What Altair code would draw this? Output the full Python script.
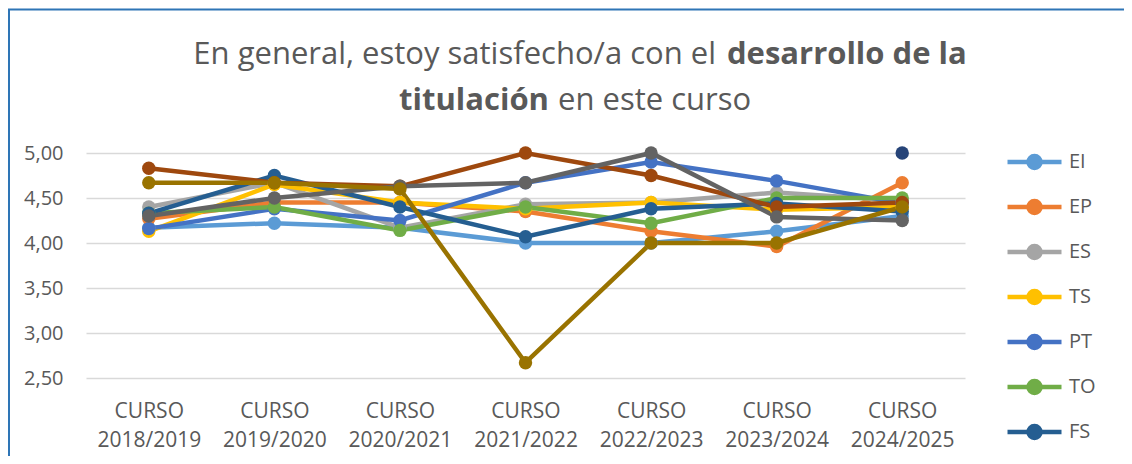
import altair as alt
import pandas as pd

courses = ["2018/2019", "2019/2020", "2020/2021", "2021/2022", "2022/2023", "2023/2024", "2024/2025"]

series = ["EI", "EP", "ES", "TS", "PT", "TO", "FS", "Serie 8", "Serie 9", "Serie 10", "Serie 11"]
colors = ["#5B9BD5", "#ED7D31", "#A5A5A5", "#FFC000", "#4472C4", "#70AD47",
          "#255E91", "#9E480E", "#636363", "#997300", "#264478"]

EI = [4.17, 4.22, 4.17, 4.00, 4.00, 4.13, 4.30]
EP = [4.27, 4.45, 4.45, 4.35, 4.13, 3.96, 4.67]
ES = [4.40, 4.67, 4.17, 4.43, 4.45, 4.56, 4.47]
TS = [4.13, 4.65, 4.45, 4.38, 4.45, 4.37, 4.40]
PT = [4.16, 4.38, 4.25, 4.67, 4.90, 4.69, 4.44]
TO = [4.33, 4.40, 4.14, 4.40, 4.22, 4.50, 4.50]
FS = [4.33, 4.75, 4.40, 4.07, 4.38, 4.44, 4.35]
S8 = [4.83, 4.67, 4.63, 5.00, 4.75, 4.40, 4.45]
S9 = [4.30, 4.50, 4.63, 4.67, 5.00, 4.29, 4.25]
S10 = [4.67, 4.67, 4.60, 2.67, 4.00, 4.00, 4.40]
S11 = [None, None, None, None, None, None, 5.00]

all_values = [EI, EP, ES, TS, PT, TO, FS, S8, S9, S10, S11]

rows = []
for name, vals in zip(series, all_values):
    for c, v in zip(courses, vals):
        if v is not None:
            rows.append({"serie": name, "curso": c, "valor": v})
df = pd.DataFrame(rows)

TEXT = "#595959"
FONT = "Open Sans"

W, H = 879, 225
PAD_L, PAD_T = 78, 145
TOTAL_W, TOTAL_H = 1116, 448

# legend symbol: line with a filled dot (concentric strokes)
def circ(r):
    return f"M{r},0A{r},{r} 0 1,1 {-r},0A{r},{r} 0 1,1 {r},0Z"
sym_path = "M-1,0L1,0" + circ(0.074) + circ(0.167) + circ(0.222)

legend = alt.Legend(
    title=None, orient="none", legendX=919, legendY=-6,
    values=series[:7], symbolType=sym_path, symbolSize=2916,
    symbolStrokeWidth=4.5, clipHeight=30, rowPadding=15, labelOffset=5,
    labelFont=FONT, labelFontSize=20, labelColor=TEXT, padding=0, labelLimit=0,
)

base = alt.Chart(df).encode(
    x=alt.X("curso:N", sort=courses,
            scale=alt.Scale(type="point", padding=0.5),
            axis=alt.Axis(title=None, labelAngle=0, domain=False, ticks=False,
                          grid=False, labelPadding=22,
                          labelExpr="['CURSO', datum.label]",
                          labelLineHeight=29, labelFont=FONT, labelFontSize=21,
                          labelColor=TEXT, labelLimit=0)),
    y=alt.Y("valor:Q", scale=alt.Scale(domain=[2.5, 5], nice=False, zero=False),
            axis=alt.Axis(title=None, values=[2.5, 3, 3.5, 4, 4.5, 5],
                          labelExpr="replace(format(datum.value, '.2f'), '.', ',')",
                          domain=False, ticks=False, labelPadding=23, grid=True,
                          gridColor="#D9D9D9", gridWidth=1.5, labelFont=FONT,
                          labelFontSize=20, labelColor=TEXT)),
    color=alt.Color("serie:N", sort=series,
                    scale=alt.Scale(domain=series, range=colors), legend=legend),
)

lines = base.mark_line(strokeWidth=4.5)
points = base.mark_point(filled=True, size=180, opacity=1)

one = alt.Data(values=[{"k": 1}])

def title_piece(text, x, y, align, bold):
    return alt.Chart(one).mark_text(
        text=text, align=align, baseline="alphabetic", font=FONT, fontSize=31,
        fontWeight="bold" if bold else "normal", color=TEXT,
    ).encode(x=alt.value(x), y=alt.value(y))

t1 = title_piece("En general, estoy satisfecho/a con el", 630, -89, "right", False)
t2 = title_piece("desarrollo de la", 641, -89, "left", True)
t3 = title_piece("titulación", 463, -43, "right", True)
t4 = title_piece("en este curso", 472, -43, "left", False)

FRAME = "#2E75B6"
frame_left = alt.Chart(one).mark_rule(color=FRAME, strokeWidth=2).encode(
    x=alt.value(-PAD_L + 1), y=alt.value(-PAD_T + 1), y2=alt.value(TOTAL_H - PAD_T))
frame_top = alt.Chart(one).mark_rule(color=FRAME, strokeWidth=2).encode(
    x=alt.value(-PAD_L), x2=alt.value(TOTAL_W - PAD_L), y=alt.value(-PAD_T + 1.5))

chart = alt.layer(frame_left, frame_top, t1, t2, t3, t4, lines, points).properties(
    width=W, height=H,
    autosize=alt.AutoSizeParams(type="none"),
    padding={"left": PAD_L, "top": PAD_T,
             "right": TOTAL_W - PAD_L - W, "bottom": TOTAL_H - PAD_T - H},
    background="white",
).configure_view(stroke=None)

chart.save("out.html", embed_options={"renderer": "svg", "actions": False})
